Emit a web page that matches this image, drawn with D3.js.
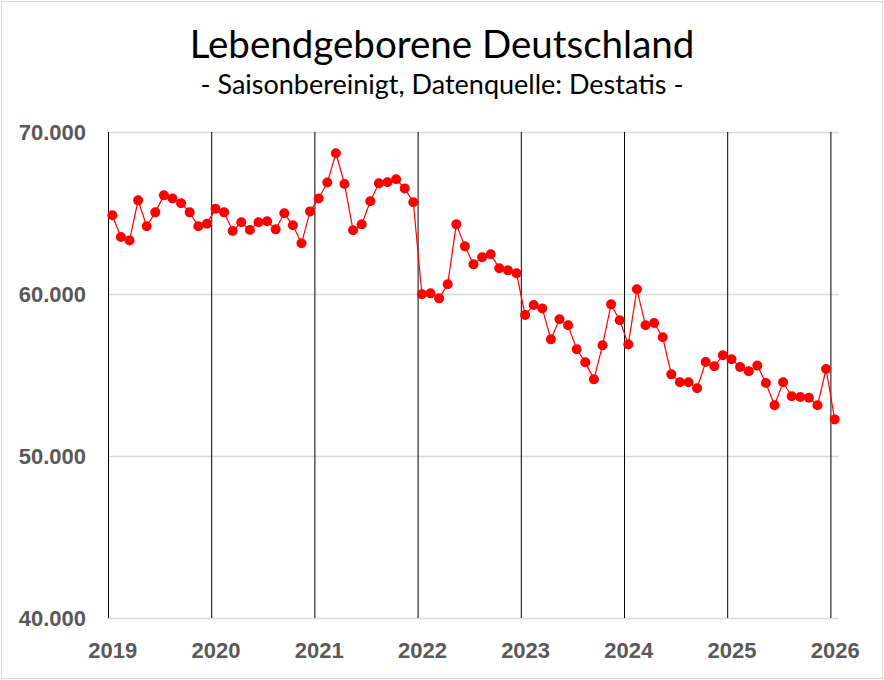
<!DOCTYPE html>
<html>
<head>
<meta charset="utf-8">
<script src="https://cdn.jsdelivr.net/npm/d3@7"></script>
<style>
  html, body { margin: 0; padding: 0; background: #fff; }
  svg { display: block; font-family: Lato, "Open Sans", sans-serif; }
</style>
</head>
<body>
<script>
// Daten: Lebendgeborene, saisonbereinigt, monatlich ab Jan 2019
const startYear = 2019;
const yearLabels = [2019, 2020, 2021, 2022, 2023, 2024, 2025, 2026];
const yTicks = [40000, 50000, 60000, 70000];

const births2019 = [64860, 63520, 63310, 65780, 64180, 65040, 66090, 65900, 65600, 65040, 64180, 64340];
const births2020 = [65270, 65040, 63890, 64430, 63950, 64430, 64490, 63990, 64980, 64240, 63130, 65100];
const births2021 = [65900, 66880, 68690, 66790, 63930, 64300, 65720, 66830, 66900, 67080, 66520, 65660];
const births2022 = [59980, 60040, 59730, 60600, 64300, 62940, 61830, 62270, 62450, 61590, 61460, 61280];
const births2023 = [58700, 59320, 59100, 57200, 58440, 58070, 56590, 55780, 54730, 56830, 59360, 58380];
const births2024 = [56890, 60290, 58070, 58210, 57330, 55040, 54550, 54550, 54180, 55800, 55540, 56220];
const births2025 = [55970, 55490, 55230, 55580, 54510, 53130, 54550, 53690, 53640, 53600, 53130, 55370];
const births2026 = [52260];

const births = [].concat(births2019, births2020, births2021, births2022,
    births2023, births2024, births2025, births2026);

const W = 884, H = 680;
const margin = { top: 132, right: 45, bottom: 62, left: 108 };
const width = W - margin.left - margin.right,
    height = H - margin.top - margin.bottom;

const svg = d3.select('body')
    .append('svg')
    .attr('width', W)
    .attr('height', H);

// Rahmen
svg.append('rect')
    .attr('x', 1.5).attr('y', 1.5)
    .attr('width', W - 3).attr('height', H - 3)
    .attr('fill', '#fff')
    .attr('stroke', '#d9d9d9');

// Titel
svg.append('text')
    .attr('x', 442).attr('y', 58)
    .attr('text-anchor', 'middle')
    .style('font-size', '38.5px')
    .style('fill', '#000')
    .text('Lebendgeborene Deutschland');

svg.append('text')
    .attr('x', 442).attr('y', 94)
    .attr('text-anchor', 'middle')
    .style('font-size', '27px')
    .style('fill', '#000')
    .text('- Saisonbereinigt, Datenquelle: Destatis -');

const g = svg.append('g')
    .attr('transform', `translate(${margin.left},${margin.top})`);

// x in Monaten ab Jan 2019, bis Feb 2026
const nMonths = (yearLabels[yearLabels.length - 1] - startYear) * 12 + 1;
const x = d3.scaleLinear().domain([0, nMonths]).range([0, width]);
const y = d3.scaleLinear().domain([40000, 70000]).range([height, 0]);

const de = d3.formatLocale({ decimal: ',', thousands: '.', grouping: [3], currency: ['', '€'] });

// horizontale Gitterlinien + y-Beschriftung
const gy = g.append('g')
    .call(d3.axisLeft(y)
        .tickValues(yTicks)
        .tickSize(-width)
        .tickPadding(22)
        .tickFormat(de.format(',.0f')));
gy.select('.domain').remove();
gy.selectAll('line').attr('stroke', '#d9d9d9').attr('stroke-width', 1.3);
gy.selectAll('text')
    .style('font-size', '22px')
    .style('font-weight', 'bold')
    .style('fill', '#595959');

// vertikale Jahreslinien + Jahreszahlen
const halfMonth = x(0.5) - x(0);
const gx = g.append('g')
    .attr('transform', `translate(0,${height})`)
    .call(d3.axisBottom(x)
        .tickValues(yearLabels.map(yr => (yr - startYear) * 12))
        .tickSize(-height)
        .tickPadding(24)
        .tickFormat((d, i) => yearLabels[i]));
gx.select('.domain').remove();
gx.selectAll('line').attr('stroke', '#000').attr('stroke-width', 1);
gx.selectAll('text')
    .attr('x', halfMonth)
    .style('font-size', '22px')
    .style('font-weight', 'bold')
    .style('fill', '#595959');

// Linie
const line = d3.line()
    .x((d, i) => x(i + 0.5))
    .y(d => y(d));

g.append('path')
    .datum(births)
    .attr('fill', 'none')
    .attr('stroke', '#ff0000')
    .attr('stroke-width', 1.2)
    .attr('d', line);

g.append('g')
    .selectAll('circle')
    .data(births)
    .join('circle')
    .attr('cx', (d, i) => x(i + 0.5))
    .attr('cy', d => y(d))
    .attr('r', 5)
    .attr('fill', '#ff0000');
</script>
</body>
</html>
